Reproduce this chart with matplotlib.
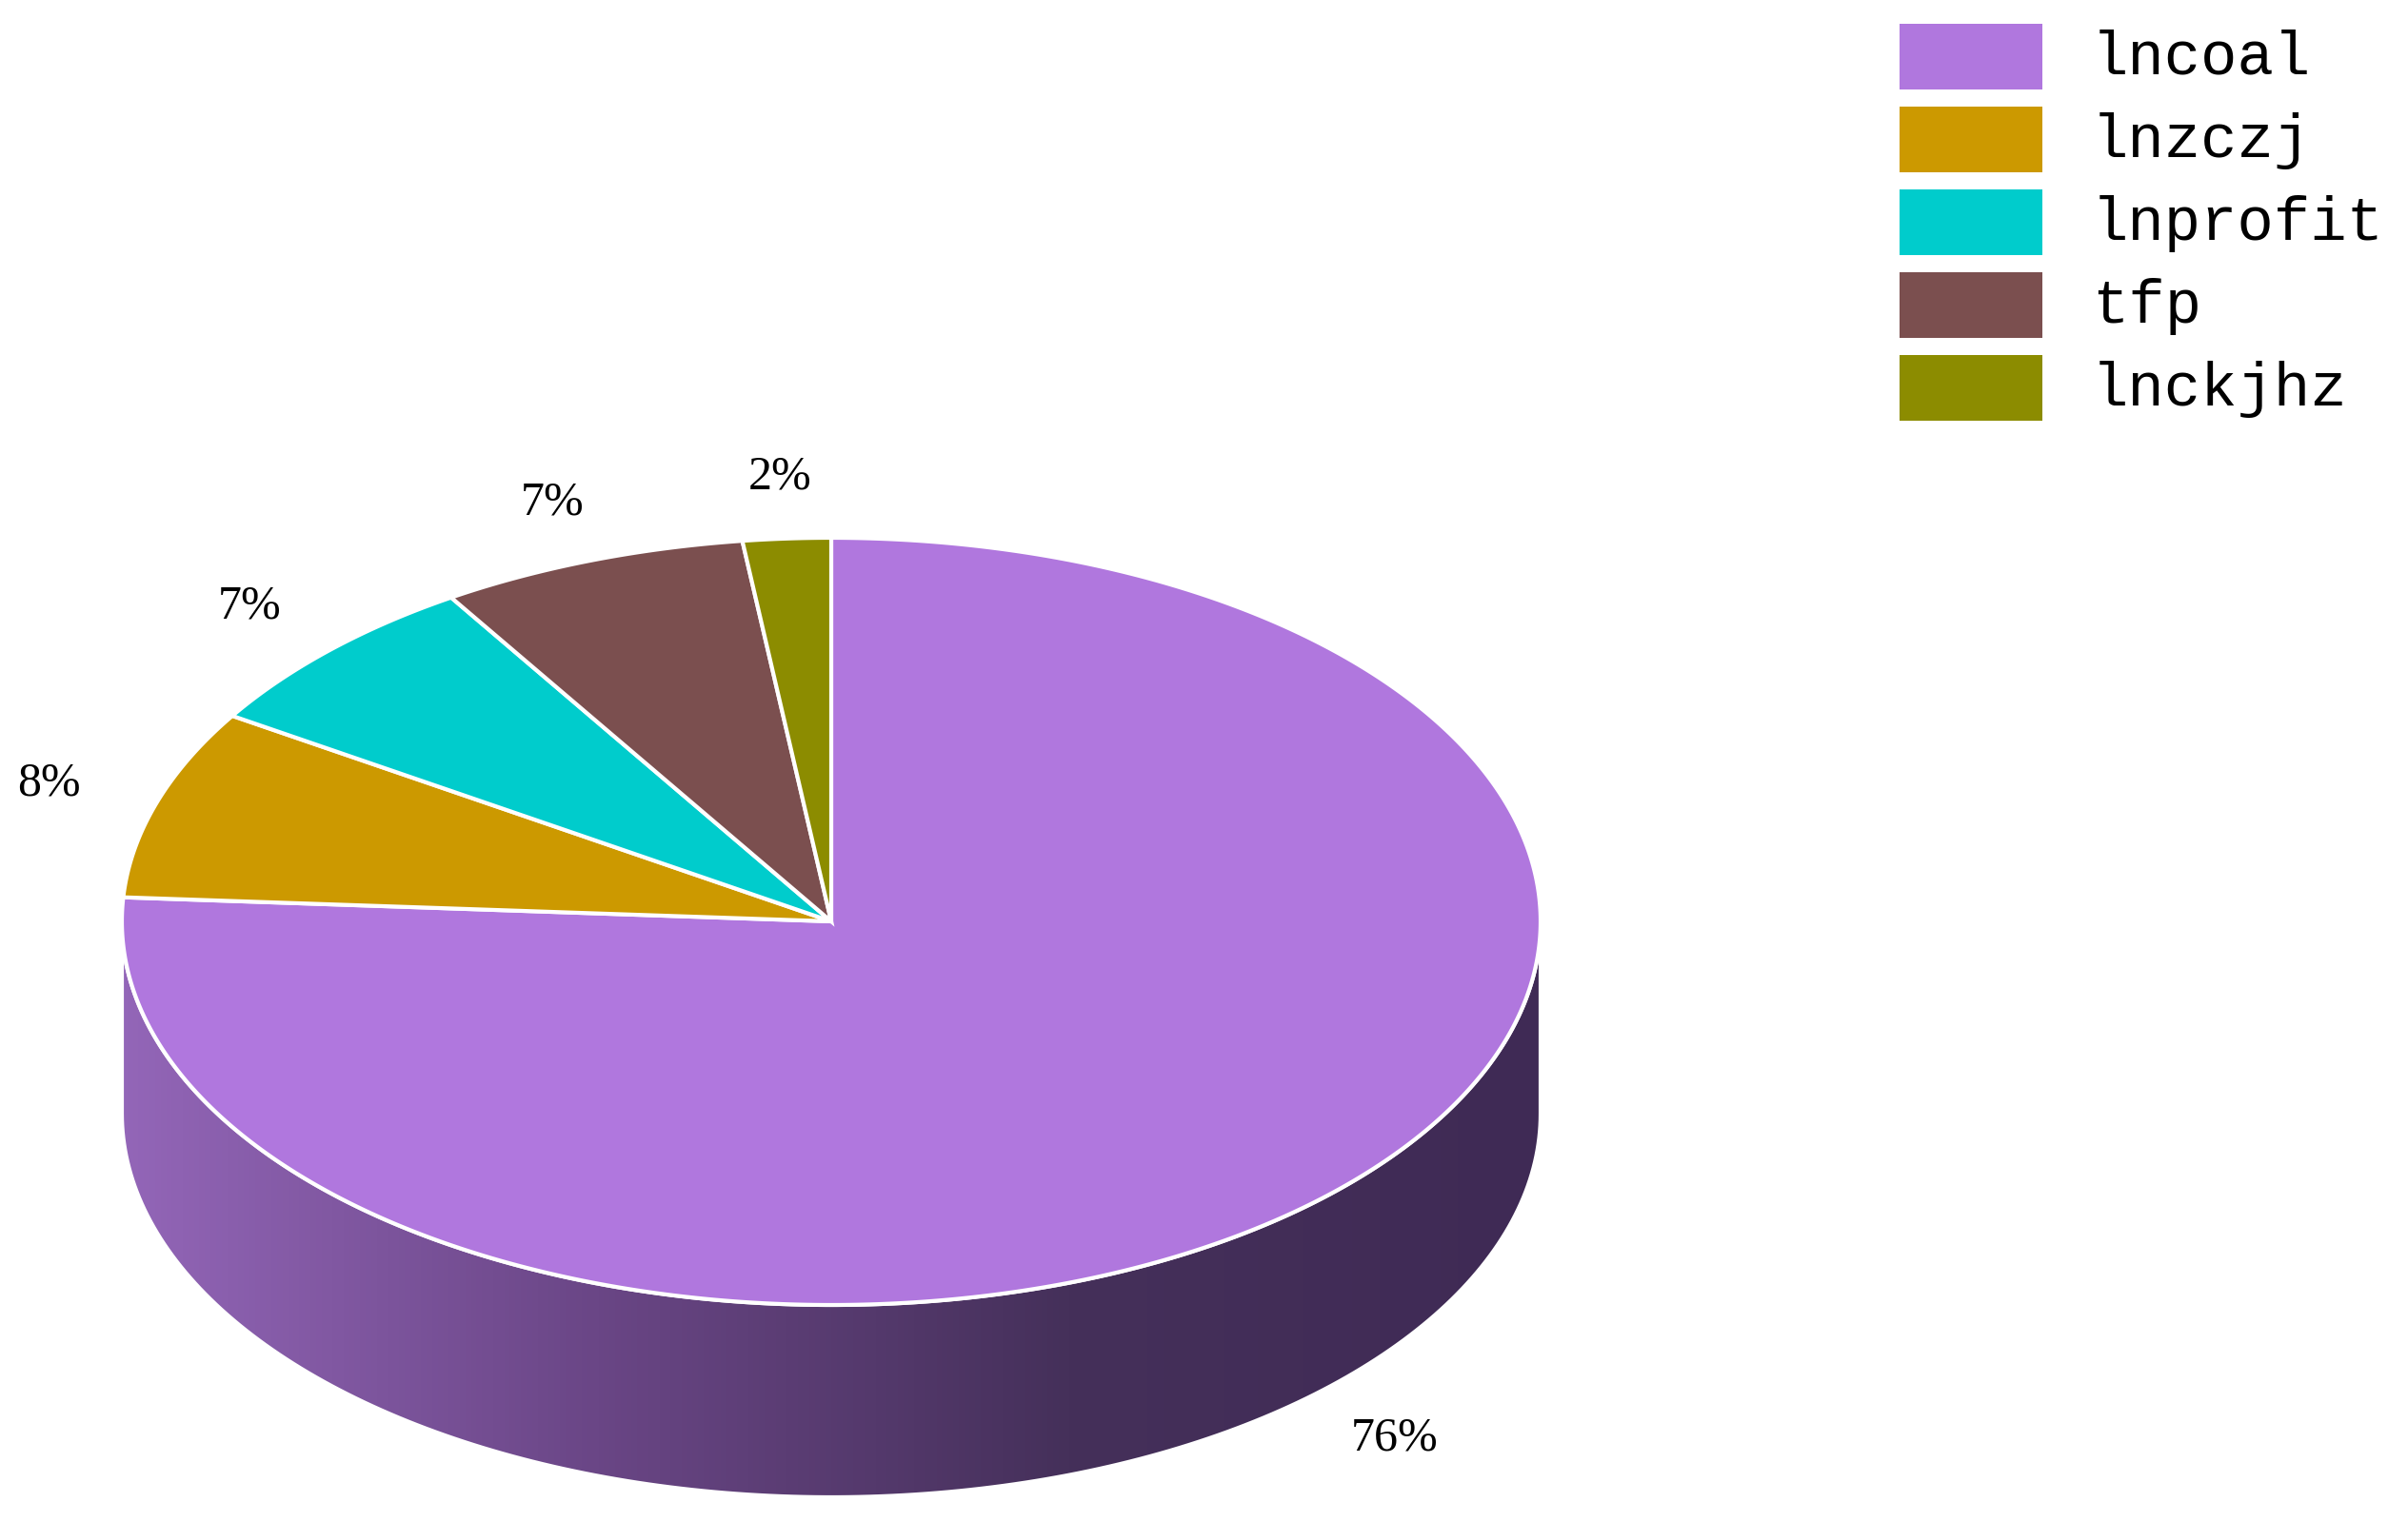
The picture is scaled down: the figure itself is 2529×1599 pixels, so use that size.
import numpy as np
import matplotlib
matplotlib.use("Agg")
import matplotlib.pyplot as plt
from matplotlib.patches import Polygon, Rectangle
from matplotlib.path import Path

labels = ["lncoal", "lnzczj", "lnprofit", "tfp", "lnckjhz"]
values = [76, 8, 7, 7, 2]
colors = ["#b077de", "#cc9900", "#00cccc", "#7b4f4f", "#8c8c00"]

W, H = 2529, 1599
fig = plt.figure(figsize=(W/100, H/100), dpi=100)
ax = fig.add_axes([0, 0, 1, 1])
ax.set_xlim(0, W); ax.set_ylim(H, 0); ax.axis("off")

cx, cy, rx, ry, depth = 873, 968, 745, 403, 202

def pt(a, dy=0):
    r = np.radians(a)
    return cx + rx*np.cos(r), cy - ry*np.sin(r) + dy

# side
t = np.linspace(180, 360, 200)
top = np.array([pt(a) for a in t])
bot = np.array([pt(a, depth) for a in t[::-1]])
side = np.vstack([top, bot])
sp = Polygon(side, closed=True, facecolor="none", edgecolor="white", lw=3, zorder=2)
ax.add_patch(sp)
grad = np.linspace(0, 1, 256)[None, :]
from matplotlib.colors import LinearSegmentedColormap
cm = LinearSegmentedColormap.from_list("g", ["#9366b8", "#6a4686", "#45305a", "#3f2a55"])
im = ax.imshow(grad, cmap=cm, extent=[cx-rx, cx+rx, cy+ry+depth, cy-10], aspect="auto", zorder=1)
im.set_clip_path(sp)

total = sum(values)
start = 90.0
for lab, v, c in zip(labels, values, colors):
    span = 360.0 * v / total
    end = start - span
    aa = np.linspace(start, end, max(int(span*2), 4))
    poly = np.vstack([[cx, cy], [pt(a) for a in aa]])
    ax.add_patch(Polygon(poly, closed=True, facecolor=c, edgecolor="white", lw=3, zorder=3))
    mid = np.radians((start + end) / 2)
    f = 1.16
    lx = cx + rx*f*np.cos(mid)
    ly = cy - ry*f*np.sin(mid) + (depth if np.sin(mid) < 0 else 0)
    ax.text(lx, ly, f"{v}%", ha="center", va="center", fontsize=36,
            family="Liberation Serif", zorder=5)
    start = end

for i, (lab, c) in enumerate(zip(labels, colors)):
    y0 = 25 + i*87
    ax.add_patch(Rectangle((1995, y0), 150, 69, facecolor=c, edgecolor="none"))
    ax.text(2197, y0 + 36, lab, ha="left", va="center", fontsize=46, family="Liberation Mono")

fig.savefig("out.png", dpi=100)
